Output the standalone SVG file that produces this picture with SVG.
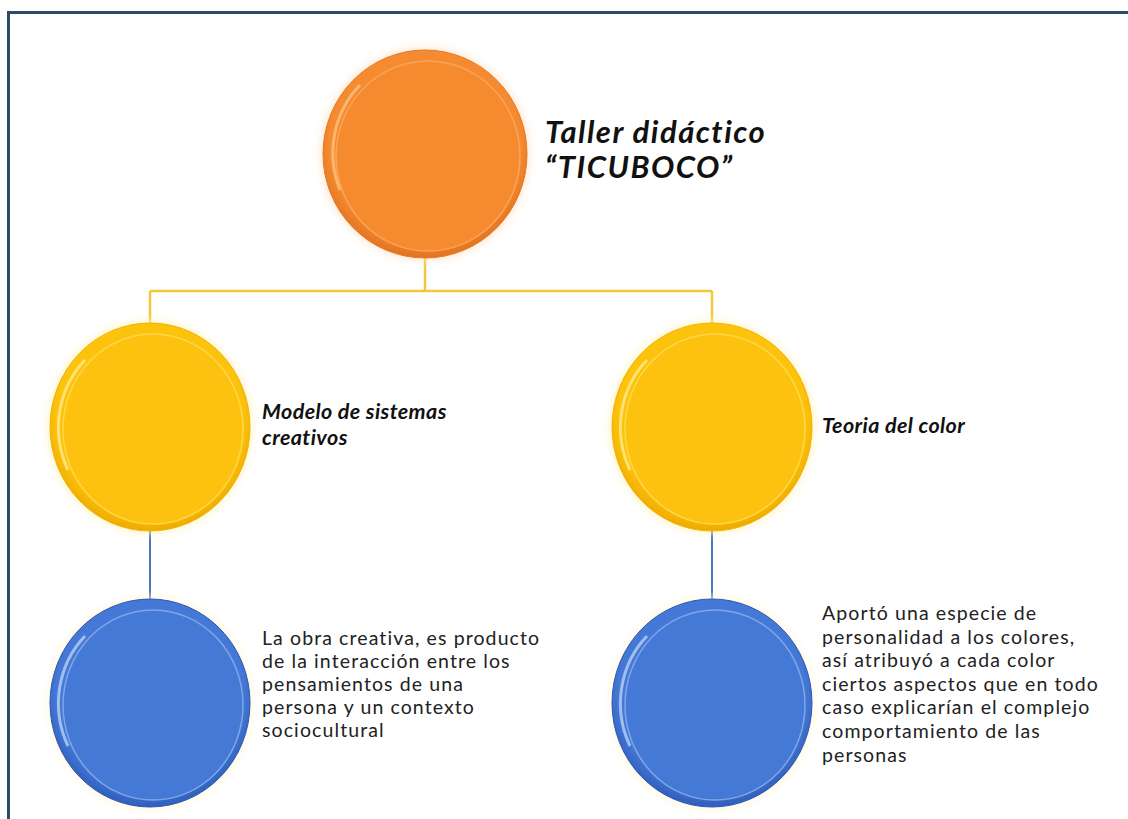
<svg xmlns="http://www.w3.org/2000/svg" width="1128" height="819" viewBox="0 0 1128 819">
<defs>
<radialGradient id="gO" cx="0.5" cy="0.45" r="0.55">
<stop offset="0" stop-color="#f9923a"/><stop offset="0.85" stop-color="#f58a30"/><stop offset="1" stop-color="#e27220"/>
</radialGradient>
<radialGradient id="gY" cx="0.5" cy="0.45" r="0.55">
<stop offset="0" stop-color="#fdc716"/><stop offset="0.85" stop-color="#fcc20c"/><stop offset="1" stop-color="#eeaa00"/>
</radialGradient>
<radialGradient id="gB" cx="0.5" cy="0.45" r="0.55">
<stop offset="0" stop-color="#4a7fdc"/><stop offset="0.85" stop-color="#4578d6"/><stop offset="1" stop-color="#2f5ebc"/>
</radialGradient>
<filter id="glow" x="-20%" y="-20%" width="140%" height="140%">
<feGaussianBlur stdDeviation="3"/>
</filter>
<style>
.title{font-family:"Lato","Liberation Sans",sans-serif;font-weight:bold;font-style:italic;font-size:31px;letter-spacing:1.5px;fill:#111}
.lbl{font-family:"Lato","Liberation Sans",sans-serif;font-weight:bold;font-style:italic;font-size:21.5px;letter-spacing:0.4px;fill:#111}
.body{font-family:"Lato","Liberation Sans",sans-serif;font-size:19.5px;letter-spacing:1.1px;fill:#222}
.cy{stroke:#f7c53c;stroke-width:2.5;fill:none}
.cb{stroke:#4e74c0;stroke-width:2;fill:none}
</style>
</defs>
<rect width="1128" height="819" fill="#fff"/>
<path d="M8.5 819 V12.5 H1128" fill="none" stroke="#2b4b69" stroke-width="3"/>
<g id="connectors">
<path class="cy" d="M425 256 V291 M150 291 H712 M150 291 V323 M712 291 V323"/>
<path class="cb" d="M150 531 V600 M712 531 V600"/>
</g>
<g id="n-taller">
<ellipse cx="425" cy="154" rx="106" ry="108" fill="#fde3c8" filter="url(#glow)" opacity="0.6"/>
<ellipse cx="425" cy="154" rx="102" ry="104" fill="url(#gO)" stroke="#e57a25" stroke-width="1"/>
<ellipse cx="428" cy="156" rx="92" ry="95" fill="#f68a2f" stroke="#f9a55a" stroke-width="1.5"/>
<path d="M340 190 A90 95 0 0 1 360 85" fill="none" stroke="#fcc07f" stroke-width="3" opacity="0.8"/>
<text class="title" x="545" y="143">Taller didáctico</text>
<text class="title" x="545" y="178">“TICUBOCO”</text>
</g>
<g id="n-modelo">
<ellipse cx="150" cy="427" rx="104" ry="108" fill="#fff3c0" filter="url(#glow)" opacity="0.6"/>
<ellipse cx="150" cy="427" rx="100" ry="104" fill="url(#gY)" stroke="#f0b400" stroke-width="1"/>
<ellipse cx="153" cy="429" rx="90" ry="95" fill="#fcc20f" stroke="#ffd84a" stroke-width="1.5"/>
<path d="M68 470 A90 95 0 0 1 85 360" fill="none" stroke="#ffe680" stroke-width="3" opacity="0.9"/>
<text class="lbl" x="262" y="419">Modelo de sistemas</text>
<text class="lbl" x="262" y="445">creativos</text>
</g>
<g id="n-teoria">
<ellipse cx="712" cy="427" rx="104" ry="108" fill="#fff3c0" filter="url(#glow)" opacity="0.6"/>
<ellipse cx="712" cy="427" rx="100" ry="104" fill="url(#gY)" stroke="#f0b400" stroke-width="1"/>
<ellipse cx="715" cy="429" rx="90" ry="95" fill="#fcc20f" stroke="#ffd84a" stroke-width="1.5"/>
<path d="M630 470 A90 95 0 0 1 647 360" fill="none" stroke="#ffe680" stroke-width="3" opacity="0.9"/>
<text class="lbl" x="822" y="433">Teoria del color</text>
</g>
<g id="n-obra">
<ellipse cx="150" cy="703" rx="104" ry="108" fill="#fff6dc" filter="url(#glow)" opacity="0.6"/>
<ellipse cx="150" cy="703" rx="100" ry="104" fill="url(#gB)" stroke="#2c58b0" stroke-width="1"/>
<ellipse cx="153" cy="705" rx="90" ry="95" fill="#4579d6" stroke="#7fa6e6" stroke-width="1.5"/>
<path d="M68 746 A90 95 0 0 1 85 636" fill="none" stroke="#a9c8f2" stroke-width="3" opacity="0.9"/>
<text class="body" x="262" y="645">La obra creativa, es producto</text>
<text class="body" x="262" y="668">de la interacción entre los</text>
<text class="body" x="262" y="691">pensamientos de una</text>
<text class="body" x="262" y="714">persona y un contexto</text>
<text class="body" x="262" y="737">sociocultural</text>
</g>
<g id="n-aporto">
<ellipse cx="712" cy="703" rx="104" ry="108" fill="#fff6dc" filter="url(#glow)" opacity="0.6"/>
<ellipse cx="712" cy="703" rx="100" ry="104" fill="url(#gB)" stroke="#2c58b0" stroke-width="1"/>
<ellipse cx="715" cy="705" rx="90" ry="95" fill="#4579d6" stroke="#7fa6e6" stroke-width="1.5"/>
<path d="M630 746 A90 95 0 0 1 647 636" fill="none" stroke="#a9c8f2" stroke-width="3" opacity="0.9"/>
<text class="body" x="822" y="620">Aportó una especie de</text>
<text class="body" x="822" y="644">personalidad a los colores,</text>
<text class="body" x="822" y="667">así atribuyó a cada color</text>
<text class="body" x="822" y="691">ciertos aspectos que en todo</text>
<text class="body" x="822" y="714">caso explicarían el complejo</text>
<text class="body" x="822" y="738">comportamiento de las</text>
<text class="body" x="822" y="762">personas</text>
</g>
</svg>
